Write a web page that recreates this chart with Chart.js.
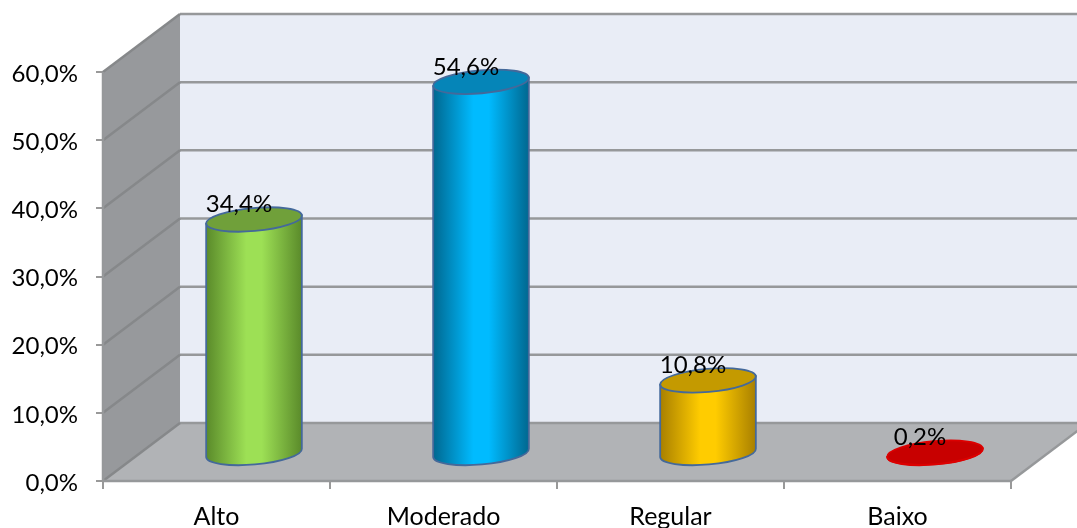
<!DOCTYPE html>
<html>
<head>
<meta charset="utf-8">
<title>Chart</title>
<script src="https://cdn.jsdelivr.net/npm/chart.js@4"></script>
<style>
    html, body { margin: 0; padding: 0; background: #fff; overflow: hidden; }
    canvas { display: block; }
</style>
</head>
<body>
<canvas id="chart" width="1077" height="528"></canvas>
<script>
let categories = ['Alto', 'Moderado', 'Regular', 'Baixo'];
let values = [34.4, 54.6, 10.8, 0.2];
let yTicks = [0, 10, 20, 30, 40, 50, 60];

let midColors = ['#9de055', '#00bbff', '#ffcc00', '#e00000'];
let edgeColors = ['#5a8a2a', '#00678f', '#a87f00', '#c80000'];
let topColors = ['#70a03a', '#0585b8', '#c49a00', '#c80000'];
let lineColors = ['#44699a', '#44699a', '#44699a', '#dc0000'];

// how far the back wall sits behind the axes, bars stand half way
let depthX = 77;
let depthY = 58;
let barShiftX = 37.5;
let barShiftY = 27;
let labelFont = '24px Lato';

function percentText(value) {
    return value.toFixed(1).replace('.', ',') + '%';
}

function drawPoly(ctx, points, color) {
    ctx.fillStyle = color;
    ctx.beginPath();
    points.forEach((p, i) => i == 0 ? ctx.moveTo(p[0], p[1]) : ctx.lineTo(p[0], p[1]));
    ctx.closePath();
    ctx.fill();
}

function drawLine(ctx, x1, y1, x2, y2) {
    ctx.beginPath();
    ctx.moveTo(x1, y1);
    ctx.lineTo(x2, y2);
    ctx.stroke();
}

let walls = {
    id: 'walls',
    beforeDatasetsDraw(chart) {
        let ctx = chart.ctx;
        let area = chart.chartArea;
        let y = chart.scales.y;
        ctx.save();
        // back wall, left wall, floor
        drawPoly(ctx, [[area.left + depthX, area.top - depthY], [area.right + depthX, area.top - depthY],
            [area.right + depthX, area.bottom - depthY], [area.left + depthX, area.bottom - depthY]], '#e9edf6');
        drawPoly(ctx, [[area.left, area.top], [area.left + depthX, area.top - depthY],
            [area.left + depthX, area.bottom - depthY], [area.left, area.bottom]], '#97999c');
        drawPoly(ctx, [[area.left, area.bottom], [area.left + depthX, area.bottom - depthY],
            [area.right + depthX, area.bottom - depthY], [area.right, area.bottom]], '#b1b3b6');

        ctx.lineWidth = 2.5;
        yTicks.forEach(tick => {
            let py = y.getPixelForValue(tick);
            ctx.strokeStyle = '#96989a';
            drawLine(ctx, area.left + depthX, py - depthY, area.right + depthX, py - depthY);
            ctx.strokeStyle = '#86888a';
            drawLine(ctx, area.left, py, area.left + depthX, py - depthY);
        });
        ctx.strokeStyle = '#96989a';
        drawLine(ctx, area.right, area.bottom, area.right + depthX, area.bottom - depthY);
        drawLine(ctx, area.left, area.top, area.left, area.bottom);
        drawLine(ctx, area.left, area.bottom, area.right, area.bottom);
        ctx.restore();
    },
    // cylinders instead of the flat bars
    beforeDatasetDraw(chart, args) {
        let ctx = chart.ctx;
        let tilt = -5 * Math.PI / 180;
        args.meta.data.forEach((bar, i) => {
            let cx = bar.x + barShiftX;
            let topY = bar.y - barShiftY;
            let baseY = bar.base - barShiftY;
            let rx = bar.width / 2;
            let ry = 11.5;
            let dy = rx * Math.sin(tilt);
            let dx = rx * Math.cos(tilt);

            let grad = ctx.createLinearGradient(cx - rx, 0, cx + rx, 0);
            grad.addColorStop(0, edgeColors[i]);
            grad.addColorStop(0.42, midColors[i]);
            grad.addColorStop(0.58, midColors[i]);
            grad.addColorStop(1, edgeColors[i]);

            ctx.save();
            ctx.beginPath();
            ctx.moveTo(cx - dx, topY - dy);
            ctx.lineTo(cx - dx, baseY - dy);
            ctx.ellipse(cx, baseY, rx, ry, tilt, Math.PI, 0, true);
            ctx.lineTo(cx + dx, topY + dy);
            ctx.closePath();
            ctx.fillStyle = grad;
            ctx.fill();
            ctx.strokeStyle = lineColors[i];
            ctx.lineWidth = 1.8;
            ctx.stroke();

            ctx.beginPath();
            ctx.ellipse(cx, topY, rx, ry, tilt, 0, Math.PI * 2);
            ctx.fillStyle = topColors[i];
            ctx.fill();
            ctx.stroke();

            ctx.fillStyle = '#000000';
            ctx.font = labelFont;
            ctx.textAlign = 'center';
            ctx.textBaseline = 'middle';
            ctx.fillText(percentText(values[i]), cx - 15, topY - 15);
            ctx.restore();
        });
        return false;
    }
};

new Chart(document.getElementById('chart'), {
    type: 'bar',
    data: {
        labels: categories,
        datasets: [{
            data: values,
            backgroundColor: midColors,
            borderColor: lineColors,
            barPercentage: 0.423,
            categoryPercentage: 1
        }]
    },
    plugins: [walls],
    options: {
        responsive: false,
        animation: false,
        layout: { padding: { top: 72, right: 66, left: 0, bottom: 0 } },
        plugins: {
            legend: { display: false },
            tooltip: { enabled: false }
        },
        scales: {
            x: {
                afterFit(scale) { scale.height = 47; },
                grid: { offset: true, drawOnChartArea: false, tickLength: 8, tickColor: '#999999', lineWidth: 2 },
                border: { display: false },
                ticks: { color: '#000000', font: { family: 'Lato', size: 25 }, padding: 13, maxRotation: 0 }
            },
            y: {
                min: 0,
                max: 60,
                afterFit(scale) { scale.width = 103; },
                afterBuildTicks(scale) { scale.ticks = yTicks.map(v => ({ value: v })); },
                grid: { drawOnChartArea: false, tickLength: 7, tickColor: '#999999', lineWidth: 2 },
                border: { display: false },
                ticks: {
                    color: '#000000',
                    font: { family: 'Lato', size: 24 },
                    padding: 18,
                    labelOffset: 2,
                    callback: v => percentText(v)
                }
            }
        }
    }
});
</script>
</body>
</html>
